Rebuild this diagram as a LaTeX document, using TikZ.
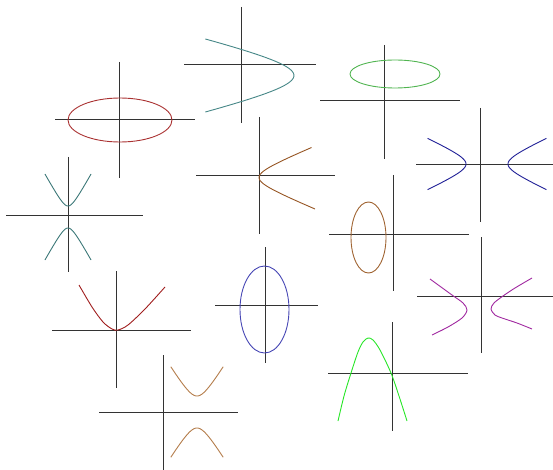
\documentclass[tikz,border=0pt]{standalone}
\usepackage{tikz}
\usepackage{xcolor}
\usetikzlibrary{calc}

\definecolor{ellred}{RGB}{170,50,50}
\definecolor{parteal}{RGB}{70,135,135}
\definecolor{ellgreen}{RGB}{80,180,80}
\definecolor{hypblue}{RGB}{30,30,150}
\definecolor{parbrown}{RGB}{150,85,35}
\definecolor{hypteal}{RGB}{60,120,120}
\definecolor{ellbrown}{RGB}{160,100,50}
\definecolor{hypmagenta}{RGB}{160,40,160}
\definecolor{parred}{RGB}{160,30,30}
\definecolor{ellblue}{RGB}{70,70,180}
\definecolor{pargreen}{RGB}{40,230,40}
\definecolor{hyptan}{RGB}{180,125,75}

\begin{document}
\begin{tikzpicture}[x=1pt, y=-1pt,
    axisline/.style={black!80, line width=1pt},
    conic/.style={line width=0.9pt}]
    \useasboundingbox (0,0) rectangle (553,470);
    % ellipse, red
    \draw[axisline] (55,120) -- (195,120) (119,62) -- (119,178);
    \draw[conic, ellred] (120,120) ellipse (52 and 22);
    % parabola opening left, teal
    \draw[axisline] (184,65) -- (316,65) (241,7) -- (241,123);
    \draw[conic, parteal] plot[domain=-36.5:36.5, samples=40]
        ({294-4.1*(sqrt(400+\x*\x)-20)}, {75.5+\x});
    % ellipse, green
    \draw[axisline] (320,101) -- (460,101) (384,45) -- (384,159);
    \draw[conic, ellgreen] (395,74) ellipse (45 and 14);
    % hyperbola, blue
    \draw[axisline] (416,165) -- (553,165) (480,108) -- (480,222);
    \draw[conic, hypblue] plot[domain=-1.7:1.7, samples=30]
        ({487-21*cosh(\x)}, {164+9.7*sinh(\x)});
    \draw[conic, hypblue] plot[domain=-1.7:1.7, samples=30]
        ({487+21*cosh(\x)}, {164+9.7*sinh(\x)});
    % parabola opening right, brown
    \draw[axisline] (196,176) -- (335,176) (259,117) -- (259,234);
    \draw[conic, parbrown] plot[domain=-30:31.5, samples=40]
        ({259+2.43*(sqrt(100+\x*\x)-10)}, {177.5+\x});
    % hyperbola, teal
    \draw[axisline] (6,215) -- (143,215) (68,157) -- (68,272);
    \draw[conic, hypteal] plot[domain=-2.04:2.04, samples=30]
        ({68+6.1*sinh(\x)}, {217-11*cosh(\x)});
    \draw[conic, hypteal] plot[domain=-2.04:2.04, samples=30]
        ({68+6.1*sinh(\x)}, {217+11*cosh(\x)});
    % ellipse, brown
    \draw[axisline] (329,234) -- (469,234) (393,175) -- (393,291);
    \draw[conic, ellbrown] (368.5,237.5) ellipse (17.5 and 35.5);
    % hyperbola, magenta
    \draw[axisline] (417,296) -- (553,296) (481,237) -- (481,353);
    \draw[conic, hypmagenta] plot[smooth] coordinates
        {(430,279) (452,295) (463,303) (467,310) (462,318) (448,327) (432,335)};
    \draw[conic, hypmagenta] plot[smooth] coordinates
        {(532,278) (515,288) (503,296) (494,303) (491,309) (495,315) (502,318) (517,323) (532,329)};
    % parabola opening up, red
    \draw[axisline] (52,330) -- (191,330) (116,271) -- (116,388);
    \draw[conic, parred] plot[smooth] coordinates
        {(79,285) (92,307) (103,322) (112,329) (118,330) (128,325) (145,309) (165,287)};
    % ellipse, blue
    \draw[axisline] (215,305) -- (318,305) (265,247) -- (265,363);
    \draw[conic, ellblue] (264.5,309.5) ellipse (24.5 and 43.5);
    % parabola opening down, green
    \draw[axisline] (328,373) -- (468,373) (392,322) -- (392,431);
    \draw[conic, pargreen] plot[smooth] coordinates
        {(338,421) (344,396) (351,373) (358,352) (363,342) (368,338) (373,340) (380,350) (391,373) (399,396) (407,421)};
    % hyperbola, tan
    \draw[axisline] (99,412) -- (238,412) (163,355) -- (163,470);
    \draw[conic, hyptan] plot[domain=-1.7:1.7, samples=30]
        ({197+9.9*sinh(\x)}, {412-16*cosh(\x)});
    \draw[conic, hyptan] plot[domain=-1.7:1.7, samples=30]
        ({197+9.9*sinh(\x)}, {412+16*cosh(\x)});
\end{tikzpicture}
\end{document}
